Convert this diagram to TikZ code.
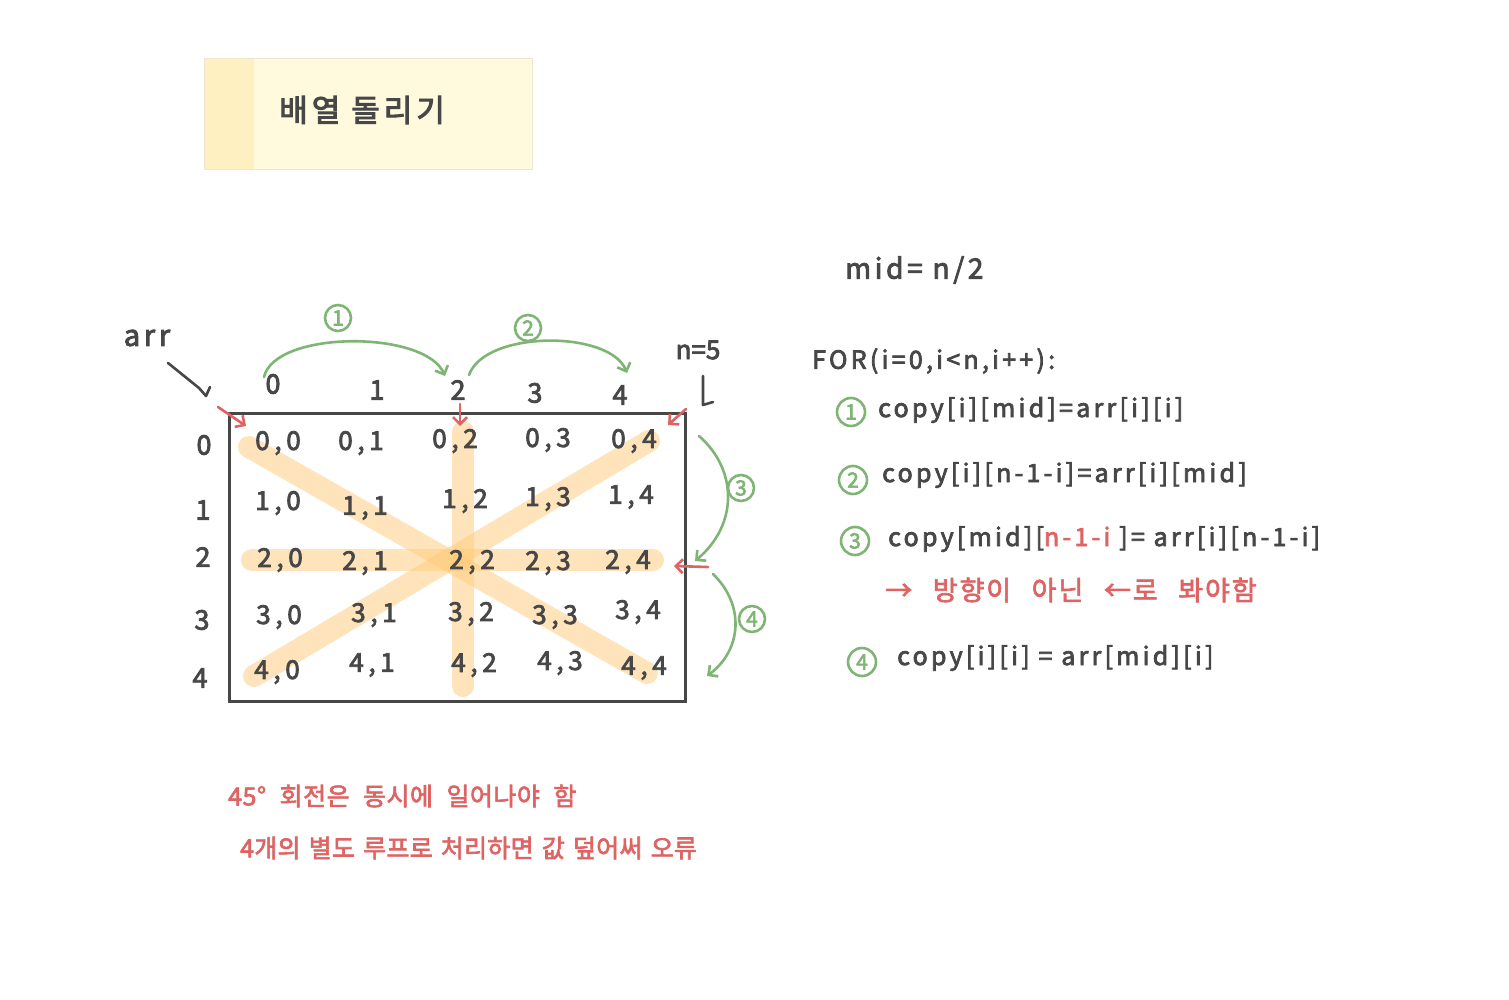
\documentclass[tikz,border=0pt]{standalone}
\usepackage{fontspec}
\setmainfont{Noto Sans CJK KR}[FakeBold=3]
\newfontfamily\codefont{Noto Sans CJK KR}[LetterSpace=13,FakeBold=3]
\newfontfamily\cellfont{Noto Sans CJK KR}[LetterSpace=18,FakeBold=3]
\newfontfamily\notefont{Noto Sans CJK KR}[WordSpace=2.2,LetterSpace=2,FakeBold=2.5]
\newfontfamily\notefontb{Noto Sans CJK KR}[WordSpace=1.4,LetterSpace=1,FakeBold=2.5]
\newfontfamily\rnotefont{Noto Sans CJK KR}[WordSpace=2.6,LetterSpace=7,FakeBold=2.5]
\usetikzlibrary{arrows.meta,calc}
\definecolor{ink}{HTML}{474747}
\definecolor{redink}{HTML}{DE6464}
\definecolor{greenink}{HTML}{7FB574}
\definecolor{bandc}{HTML}{FFCB78}
\definecolor{note}{HTML}{FFF9DE}
\definecolor{notestripe}{HTML}{FFF0C2}
\definecolor{noteline}{HTML}{EDE6D2}
\tikzset{
  cell/.style={text=ink,font=\cellfont\fontsize{26}{28}\selectfont,inner sep=0pt},
  axis/.style={text=ink,font=\fontsize{27}{29}\selectfont,inner sep=0pt},
  code/.style={text=ink,font=\codefont\fontsize{25}{27}\selectfont,inner sep=0pt,anchor=west},
  rednote/.style={text=redink,font=\notefont\fontsize{25}{27}\selectfont,inner sep=0pt,anchor=west},
  bandline/.style={draw=bandc,opacity=0.5,line width=22pt,line cap=round},
  redarrow/.style={draw=redink,line width=2.6pt,line cap=round,-{Straight Barb[length=7pt,width=14pt,line width=2.6pt]}},
  greenarrow/.style={draw=greenink,line width=2.6pt,line cap=round,-{Straight Barb[length=7pt,width=14pt,line width=2.6pt]}},
  inkline/.style={draw=ink,line width=2.6pt,line cap=round,line join=round},
  circnum/.style={circle,draw=greenink,line width=2.6pt,text=greenink,inner sep=0pt,minimum size=28pt,font=\fontsize{21}{22}\selectfont},
}
\begin{document}
\begin{tikzpicture}[x=1pt,y=-1pt]
\path[use as bounding box,fill=white] (0,0) rectangle (1509,1000);

% title note
\path[fill=note,draw=noteline,line width=1pt] (204,59) rectangle (532,170);
\path[fill=notestripe] (204.5,59.5) rectangle (254,169.5);
\node[text=ink,font=\codefont\fontsize{31}{33}\selectfont,anchor=west,inner sep=0pt] (title) at (279,110) {배열 돌리기};

% highlight bands
\coordinate (b1s) at (249,447);
\coordinate (b1e) at (647,673);
\coordinate (b2s) at (254,676);
\coordinate (b2e) at (649,441);
\coordinate (b3s) at (463,432);
\coordinate (b3e) at (463,686);
\coordinate (b4s) at (252,560);
\coordinate (b4e) at (653,560);
\draw[bandline] (b1s) -- (b1e);
\draw[bandline] (b2s) -- (b2e);
\draw[bandline] (b3s) -- (b3e);
\draw[bandline] (b4s) -- (b4e);

% grid frame
\draw[ink,line width=3pt] (229,413) rectangle (685,701);

% column & row labels
\node[axis] (c0) at (273,384) {0};
\node[axis] (c1) at (377,390) {1};
\node[axis] (c2) at (458,390) {2};
\node[axis] (c3) at (535,393) {3};
\node[axis] (c4) at (620,395) {4};
\node[axis] (r0) at (204,445) {0};
\node[axis] (r1) at (203,510) {1};
\node[axis] (r2) at (203,557) {2};
\node[axis] (r3) at (202,620) {3};
\node[axis] (r4) at (200,678) {4};

% cells
\foreach \n/\x/\y in {00/278/443,01/361/443,02/455/441,03/548/440,04/634/441,
  10/278/503,11/365/508,12/465/501,13/548/499,14/631/497,
  20/280/560,21/365/563,22/472/562,23/548/563,24/628/562,
  30/279/617,31/374/615,32/471/614,33/555/617,34/638/612,
  40/277/672,41/372/665,42/474/665,43/560/663,44/644/668}{
  \node[cell] (m\n) at (\x,\y) {\pgfmathparse{int(\n/10)}\pgfmathresult,\pgfmathparse{int(mod(\n,10))}\pgfmathresult};
}

% arr pointer
\node[text=ink,font=\codefont\fontsize{29}{31}\selectfont,inner sep=0pt] (arr) at (147,338) {arr};
\draw[inkline] (168,363) -- (199,388) -- (206,396) -- (210,387);
% n=5 pointer
\node[text=ink,font=\fontsize{26}{28}\selectfont,inner sep=0pt] (nlab) at (698,350) {n=5};
\draw[inkline] (703,376) -- (703,405) -- (713,402);

% red arrows
\coordinate (ra1) at (218,407);
\coordinate (ra1e) at (246,426);
\draw[redarrow] (ra1) -- (ra1e);
\coordinate (ra2) at (460,404);
\coordinate (ra2e) at (460,426);
\draw[redarrow] (ra2) -- (ra2e);
\coordinate (ra3) at (686,409);
\coordinate (ra3e) at (668,425);
\draw[redarrow] (ra3) -- (ra3e);
\coordinate (ra4) at (708,567);
\coordinate (ra4e) at (674,566);
\draw[redarrow] (ra4) -- (ra4e);

% green arcs
\coordinate (g1s) at (264,377);
\coordinate (g1e) at (445,376);
\draw[greenarrow] (g1s) .. controls (275,330) and (425,330) .. (g1e);
\node[circnum,minimum size=26pt] (n1) at (338,318) {1};
\coordinate (g2s) at (469,375);
\coordinate (g2e) at (627,373);
\draw[greenarrow] (g2s) .. controls (485,330) and (610,330) .. (g2e);
\node[circnum,minimum size=26pt] (n2) at (528,328) {2};
\coordinate (g3s) at (699,436);
\coordinate (g3e) at (695,561);
\draw[greenarrow] (g3s) .. controls (738,470) and (738,525) .. (g3e);
\node[circnum,minimum size=26pt] (n3) at (741,488) {3};
\coordinate (g4s) at (713,574);
\coordinate (g4e) at (707,676);
\draw[greenarrow] (g4s) .. controls (745,605) and (742,650) .. (g4e);
\node[circnum,minimum size=26pt] (n4) at (752,619) {4};

% right side code
\node[code,font=\codefont\fontsize{28}{30}\selectfont] (mid) at (845,270) {mid= n/2};
\node[code] (for) at (812,361) {FOR(i=0,i<n,i++):};
\node[circnum] (k1) at (851,412) {1};
\node[code] (l1) at (878,410) {copy[i][mid]=arr[i][i]};
\node[circnum] (k2) at (853,480) {2};
\node[code] (l2) at (882,475) {copy[i][n-1-i]=arr[i][mid]};
\node[circnum] (k3) at (855,541) {3};
\node[code] (l3) at (888,539) {copy[mid][\textcolor{redink}{n-1-i} ]= arr[i][n-1-i]};
\node[rednote,font=\rnotefont\fontsize{27}{29}\selectfont] (r3) at (885,590) {→ 방향이 아닌 ←로 봐야함};
\node[circnum] (k4) at (862,662) {4};
\node[code] (l4) at (897,658) {copy[i][i] = arr[mid][i]};

% bottom notes
\node[rednote] (bn1) at (228,796) {45° 회전은 동시에 일어나야 함};
\node[rednote,font=\notefontb\fontsize{25}{27}\selectfont] (bn2) at (240,848) {4개의 별도 루프로 처리하면 값 덮어써 오류};
\end{tikzpicture}
\end{document}
